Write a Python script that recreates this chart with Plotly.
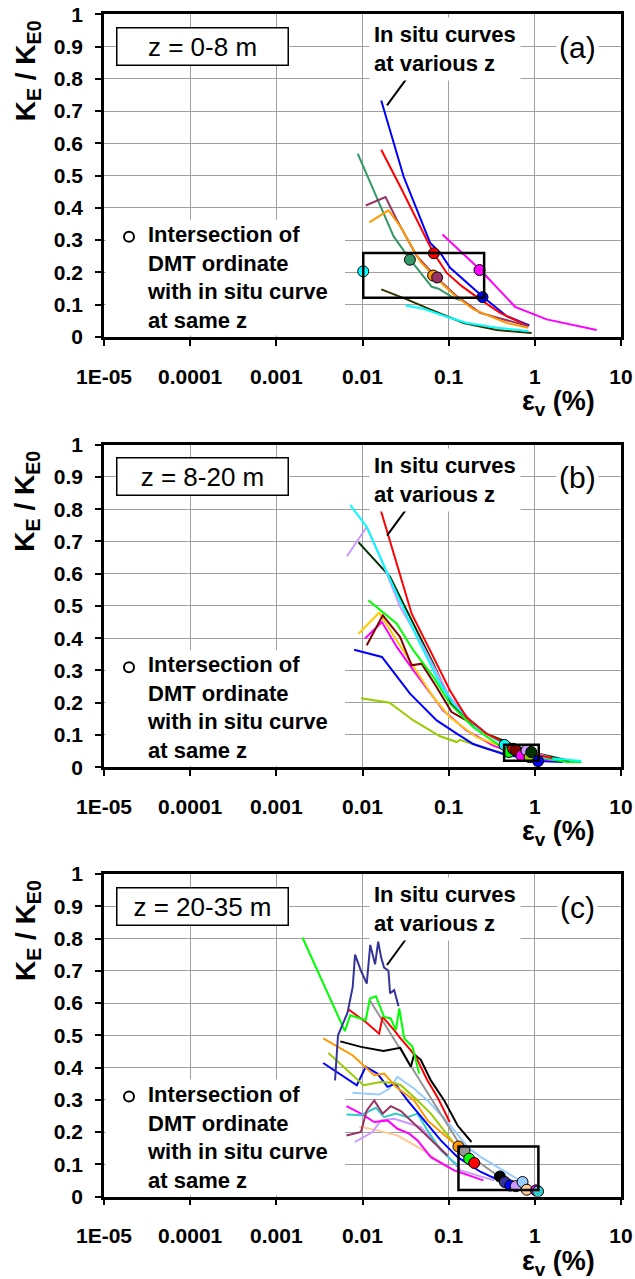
import plotly.graph_objects as go

FONT = "Liberation Sans, Arial, sans-serif"
W, H = 635, 1279

# ---------------- data ----------------
x_tickvals = [1e-5, 1e-4, 1e-3, 1e-2, 1e-1, 1, 10]
x_ticktext = ["1E-05", "0.0001", "0.001", "0.01", "0.1", "1", "10"]
y_tickvals = [0, 0.1, 0.2, 0.3, 0.4, 0.5, 0.6, 0.7, 0.8, 0.9, 1]
y_ticktext = ["0", "0.1", "0.2", "0.3", "0.4", "0.5", "0.6", "0.7", "0.8", "0.9", "1"]

panel_labels = ["(a)", "(b)", "(c)"]
depth_labels = ["z = 0-8 m", "z = 8-20 m", "z = 20-35 m"]

# Panel (a): z = 0-8 m
a_blue_x = [0.0165, 0.030, 0.061, 0.080, 0.104, 0.170, 0.249, 0.472, 0.865]
a_blue_y = [0.733, 0.497, 0.291, 0.260, 0.214, 0.162, 0.124, 0.064, 0.035]
a_red_x = [0.0165, 0.0274, 0.0557, 0.0667, 0.095, 0.142, 0.232, 0.395, 0.843]
a_red_y = [0.580, 0.466, 0.301, 0.260, 0.198, 0.157, 0.116, 0.074, 0.033]
a_sea_x = [0.0088, 0.0229, 0.0357, 0.0637, 0.0762, 0.1138, 0.136]
a_sea_y = [0.568, 0.312, 0.239, 0.155, 0.149, 0.121, 0.114]
a_mauve_x = [0.0109, 0.0185, 0.025, 0.0427, 0.0728, 0.124, 0.232, 0.84]
a_mauve_y = [0.407, 0.433, 0.363, 0.250, 0.183, 0.126, 0.074, 0.033]
a_orange_x = [0.0120, 0.020, 0.0274, 0.0467, 0.0667, 0.114, 0.194, 0.472, 0.84]
a_orange_y = [0.355, 0.392, 0.343, 0.234, 0.190, 0.131, 0.085, 0.043, 0.028]
a_magenta_x = [0.0848, 0.232, 0.590, 1.374, 5.22]
a_magenta_y = [0.317, 0.208, 0.093, 0.054, 0.021]
a_olive_x = [0.0165, 0.0327, 0.061, 0.149, 0.361, 0.92]
a_olive_y = [0.147, 0.116, 0.085, 0.043, 0.021, 0.012]
a_cyan_x = [0.0316, 0.051, 0.095, 0.162, 0.361, 0.843]
a_cyan_y = [0.097, 0.087, 0.062, 0.043, 0.028, 0.018]
a_pts_x = [0.0102, 0.0355, 0.0673, 0.066, 0.0735, 0.228, 0.247]
a_pts_y = [0.203, 0.239, 0.259, 0.190, 0.184, 0.207, 0.123]
a_pts_c = ["#00ffff", "#339966", "#ff0000", "#ff9900", "#993366", "#ff00ff", "#0000ff"]
a_box = [0.0102, 0.258, 0.121, 0.260]

# Panel (b): z = 8-20 m
b_red_x = [0.0163, 0.0372, 0.0664, 0.1035, 0.161, 0.275, 0.43, 0.56, 0.957, 1.6]
b_red_y = [0.797, 0.476, 0.342, 0.238, 0.155, 0.104, 0.078, 0.057, 0.041, 0.028]
b_cyan_x = [0.0072, 0.0112, 0.0229, 0.0426, 0.0794, 0.113, 0.211, 0.445, 1.14, 3.47]
b_cyan_y = [0.813, 0.745, 0.559, 0.404, 0.259, 0.197, 0.124, 0.069, 0.031, 0.019]
b_lav_x = [0.0066, 0.0112, 0.016, 0.0273, 0.0509, 0.1035, 0.211, 0.43, 0.80, 1.5]
b_lav_y = [0.654, 0.745, 0.652, 0.497, 0.373, 0.217, 0.124, 0.072, 0.052, 0.030]
b_dkg_x = [0.0090, 0.0209, 0.0356, 0.0664, 0.108, 0.161, 0.275, 0.91, 2.5]
b_dkg_y = [0.697, 0.590, 0.466, 0.321, 0.197, 0.155, 0.104, 0.047, 0.020]
b_green_x = [0.0117, 0.025, 0.039, 0.0664, 0.1035, 0.193, 0.50, 2.33, 3.47]
b_green_y = [0.518, 0.445, 0.362, 0.280, 0.197, 0.124, 0.047, 0.016, 0.016]
b_gold_x = [0.0090, 0.0156, 0.025, 0.039, 0.0664, 0.1035, 0.211, 0.56, 3.0]
b_gold_y = [0.414, 0.479, 0.393, 0.311, 0.217, 0.155, 0.093, 0.050, 0.016]
b_mag_x = [0.0107, 0.0168, 0.025, 0.039, 0.0867, 0.161, 0.329, 0.70, 1.5]
b_mag_y = [0.399, 0.450, 0.373, 0.300, 0.176, 0.114, 0.067, 0.036, 0.022]
b_dred_x = [0.0112, 0.0172, 0.0273, 0.0372, 0.0486, 0.0726, 0.108, 0.161, 0.275, 0.60, 1.3]
b_dred_y = [0.378, 0.471, 0.404, 0.316, 0.321, 0.248, 0.171, 0.145, 0.104, 0.053, 0.030]
b_blue_x = [0.0080, 0.0168, 0.0356, 0.0726, 0.124, 0.193, 0.43, 1.09, 2.13]
b_blue_y = [0.364, 0.342, 0.228, 0.145, 0.104, 0.072, 0.041, 0.019, 0.016]
b_yg_x = [0.0096, 0.0206, 0.039, 0.0794, 0.124, 0.135, 0.275, 0.56, 0.87, 1.5]
b_yg_y = [0.214, 0.200, 0.145, 0.096, 0.078, 0.085, 0.057, 0.036, 0.031, 0.020]
b_pts_x = [0.445, 0.50, 0.56, 0.60, 0.70, 0.80, 0.87, 0.91, 1.09]
b_pts_y = [0.069, 0.047, 0.057, 0.053, 0.036, 0.052, 0.031, 0.047, 0.019]
b_pts_c = ["#00ffff", "#00ff00", "#ff0000", "#800000", "#ff00ff", "#cc99ff", "#99cc00", "#003300", "#0000ff"]
b_box = [0.44, 1.11, 0.020, 0.070]

# Panel (c): z = 20-35 m
c_navy_x = [0.0048, 0.0052, 0.0067, 0.0077, 0.0082, 0.0096, 0.0112, 0.0123, 0.0140, 0.0152, 0.0165, 0.0178, 0.020, 0.0209, 0.0233, 0.0262]
c_navy_y = [0.36, 0.50, 0.57, 0.65, 0.75, 0.70, 0.66, 0.78, 0.72, 0.79, 0.74, 0.71, 0.70, 0.63, 0.64, 0.59]
c_green_x = [0.00201, 0.00624, 0.0072, 0.0109, 0.0122, 0.0143, 0.0178, 0.0213, 0.0244, 0.0267, 0.0305, 0.038, 0.0455]
c_green_y = [0.803, 0.513, 0.562, 0.547, 0.614, 0.621, 0.557, 0.552, 0.516, 0.583, 0.490, 0.464, 0.381]
c_red_x = [0.00689, 0.0109, 0.0156, 0.0171, 0.0233, 0.0267, 0.0364, 0.0416, 0.0568, 0.0741, 0.103]
c_red_y = [0.580, 0.541, 0.505, 0.557, 0.516, 0.495, 0.453, 0.433, 0.360, 0.308, 0.231]
c_black_x = [0.00551, 0.0096, 0.0175, 0.0274, 0.0364, 0.0398, 0.0475, 0.0621, 0.0887, 0.127, 0.184]
c_black_y = [0.481, 0.464, 0.451, 0.461, 0.402, 0.441, 0.424, 0.360, 0.298, 0.220, 0.169]
c_gray_x = [0.0123, 0.153, 0.37, 0.70]
c_gray_y = [0.606, 0.138, 0.065, 0.035]
c_orange_x = [0.0035, 0.00766, 0.0137, 0.0178, 0.0244, 0.0398, 0.0568, 0.127]
c_orange_y = [0.490, 0.438, 0.376, 0.381, 0.340, 0.298, 0.236, 0.155]
c_yg_x = [0.00403, 0.0103, 0.0163, 0.0233, 0.0279, 0.0435, 0.0621, 0.116]
c_yg_y = [0.445, 0.345, 0.355, 0.352, 0.345, 0.298, 0.257, 0.164]
c_blue_x = [0.0035, 0.0086, 0.0109, 0.0149, 0.0195, 0.0239, 0.0333, 0.052, 0.0811, 0.127, 0.236, 0.52]
c_blue_y = [0.414, 0.345, 0.402, 0.381, 0.340, 0.350, 0.298, 0.236, 0.174, 0.122, 0.076, 0.034]
c_lblue_x = [0.00766, 0.0156, 0.0204, 0.0255, 0.0398, 0.0568, 0.0969, 0.166, 0.236, 0.72]
c_lblue_y = [0.322, 0.316, 0.334, 0.371, 0.334, 0.298, 0.231, 0.153, 0.122, 0.045]
c_mauve_x = [0.00652, 0.0096, 0.0112, 0.0137, 0.0171, 0.0213, 0.0279, 0.0398, 0.0621, 0.0969]
c_mauve_y = [0.189, 0.200, 0.267, 0.298, 0.257, 0.280, 0.265, 0.226, 0.174, 0.127]
c_teal_x = [0.00652, 0.0096, 0.0143, 0.0178, 0.0244, 0.0333, 0.0435, 0.0568, 0.0811, 0.127]
c_teal_y = [0.254, 0.252, 0.275, 0.246, 0.257, 0.246, 0.257, 0.205, 0.143, 0.096]
c_mag_x = [0.00652, 0.0096, 0.0137, 0.0195, 0.0255, 0.0348, 0.0435, 0.0621, 0.116, 0.253]
c_mag_y = [0.280, 0.257, 0.231, 0.236, 0.210, 0.195, 0.174, 0.122, 0.081, 0.050]
c_lav_x = [0.00815, 0.0131, 0.0163, 0.0233, 0.0333, 0.0475, 0.0741, 0.138, 0.337]
c_lav_y = [0.169, 0.200, 0.236, 0.241, 0.228, 0.215, 0.158, 0.081, 0.050]
c_peach_x = [0.00915, 0.0149, 0.0255, 0.0475, 0.0969]
c_peach_y = [0.217, 0.205, 0.189, 0.148, 0.091]
c_pts_x = [0.130, 0.153, 0.173, 0.198, 0.393, 0.449, 0.52, 0.601, 0.72, 0.807, 1.03, 1.09]
c_pts_y = [0.155, 0.141, 0.117, 0.104, 0.062, 0.045, 0.034, 0.032, 0.045, 0.021, 0.019, 0.016]
c_pts_c = ["#ff9900", "#969696", "#00ff00", "#ff0000", "#000000", "#333399", "#0000ff",
           "#cc99ff", "#99ccff", "#ffcc99", "#ff00ff", "#33cccc"]
c_box = [0.13, 1.10, 0.020, 0.155]

panels = [
    dict(curves=[(a_blue_x, a_blue_y, "#0000ff"), (a_red_x, a_red_y, "#ff0000"),
                 (a_sea_x, a_sea_y, "#339966"), (a_mauve_x, a_mauve_y, "#993366"),
                 (a_orange_x, a_orange_y, "#ff9900"), (a_magenta_x, a_magenta_y, "#ff00ff"),
                 (a_olive_x, a_olive_y, "#333300"), (a_cyan_x, a_cyan_y, "#00ffff")],
         pts=(a_pts_x, a_pts_y, a_pts_c), box=a_box),
    dict(curves=[(b_yg_x, b_yg_y, "#99cc00"), (b_blue_x, b_blue_y, "#0000ff"),
                 (b_mag_x, b_mag_y, "#ff00ff"), (b_gold_x, b_gold_y, "#ffcc00"),
                 (b_dred_x, b_dred_y, "#800000"), (b_green_x, b_green_y, "#00ff00"),
                 (b_dkg_x, b_dkg_y, "#003300"), (b_lav_x, b_lav_y, "#cc99ff"),
                 (b_cyan_x, b_cyan_y, "#00ffff"), (b_red_x, b_red_y, "#ff0000")],
         pts=(b_pts_x, b_pts_y, b_pts_c), box=b_box),
    dict(curves=[(c_peach_x, c_peach_y, "#ffcc99"), (c_lav_x, c_lav_y, "#cc99ff"),
                 (c_mag_x, c_mag_y, "#ff00ff"), (c_teal_x, c_teal_y, "#33cccc"),
                 (c_mauve_x, c_mauve_y, "#993366"), (c_lblue_x, c_lblue_y, "#99ccff"),
                 (c_blue_x, c_blue_y, "#0000ff"), (c_yg_x, c_yg_y, "#99cc00"),
                 (c_orange_x, c_orange_y, "#ff9900"), (c_gray_x, c_gray_y, "#969696"),
                 (c_black_x, c_black_y, "#000000"), (c_red_x, c_red_y, "#ff0000"),
                 (c_green_x, c_green_y, "#00ff00"), (c_navy_x, c_navy_y, "#333399")],
         pts=(c_pts_x, c_pts_y, c_pts_c), box=c_box),
]

# ---------------- layout geometry (pixels) ----------------
X0, X1 = 104, 621
TOPS = [14.3, 444.7, 874.0]
PH = 322.5


def px(x):
    return x / W


def py(y):
    return 1 - y / H


def xdata(xp):
    # pixel -> data value on the log axis (for decoration placement)
    return 10 ** (-5 + 6 * (xp - X0) / (X1 - X0))


fig = go.Figure()
shapes, annotations = [], []
layout_axes = {}

for i, p in enumerate(panels):
    n = "" if i == 0 else str(i + 1)
    xa, ya = "x" + n, "y" + n
    t = TOPS[i]
    b = t + PH
    for cx, cy, col in p["curves"]:
        fig.add_trace(go.Scatter(x=cx, y=cy, mode="lines", xaxis=xa, yaxis=ya,
                                 line=dict(color=col, width=2), showlegend=False,
                                 hoverinfo="skip"))
    bx = p["box"]
    shapes.append(dict(type="rect", xref=xa, yref=ya, x0=bx[0], x1=bx[1], y0=bx[2], y1=bx[3],
                       line=dict(color="black", width=2.5), layer="above"))
    px_, py_, pc_ = p["pts"]
    fig.add_trace(go.Scatter(x=px_, y=py_, mode="markers", xaxis=xa, yaxis=ya,
                             marker=dict(color=pc_, size=11, line=dict(color="black", width=1)),
                             showlegend=False, hoverinfo="skip"))

    tfont = dict(family=FONT, size=21, color="black", weight="bold")
    layout_axes["xaxis" + n] = dict(
        type="log", range=[-5, 1], domain=[px(X0), px(X1)], anchor=ya, automargin=False,
        tickvals=x_tickvals, ticktext=x_ticktext, tickfont=tfont,
        showgrid=True, gridcolor="#a0a0a0", gridwidth=1,
        showline=True, linecolor="black", linewidth=2.5, mirror=True,
        ticks="outside", ticklen=6, tickwidth=1.5, tickcolor="black",
        ticklabelstandoff=13, zeroline=False, fixedrange=True)
    layout_axes["yaxis" + n] = dict(
        range=[0, 1], domain=[py(b), py(t)], anchor=xa, automargin=False,
        tickvals=y_tickvals, ticktext=y_ticktext, tickfont=tfont,
        showgrid=True, gridcolor="#a0a0a0", gridwidth=1,
        showline=True, linecolor="black", linewidth=2.5, mirror=True,
        ticks="outside", ticklen=6, tickwidth=1.5, tickcolor="black",
        ticklabelstandoff=8, zeroline=False, fixedrange=True)

    xd, yd = xa + " domain", ya + " domain"

    def dx(xp):
        return (xp - X0) / (X1 - X0)

    def dy(yp, b=b):
        return (b - yp) / PH

    # white area behind the legend note (hides gridlines, stays under traces)
    shapes.append(dict(type="rect", xref=xa, yref=ya, x0=xdata(X0 + 1.5), x1=xdata(345),
                       y0=0.004, y1=117 / PH, fillcolor="white",
                       line=dict(width=0), layer="between"))
    # open circle legend symbol
    shapes.append(dict(type="circle", xref=xd, yref=yd, xsizemode="pixel", ysizemode="pixel",
                       xanchor=dx(129), yanchor=dy(b - 100), x0=-5, x1=5, y0=-5, y1=5,
                       line=dict(color="black", width=2), fillcolor="white", layer="above"))
    annotations.append(dict(xref=xd, yref=yd, x=dx(145), y=dy(b - 59.5), xanchor="left",
                            yanchor="middle", align="left", showarrow=False,
                            text="<b>Intersection of<br>DMT ordinate<br>with in situ curve<br>at same z</b>",
                            font=dict(family=FONT, size=22, color="black")))
    # depth box
    annotations.append(dict(xref=xd, yref=yd, x=dx(202), y=dy(t + 32), xanchor="center",
                            yanchor="middle", showarrow=False, text=depth_labels[i],
                            width=170, height=36, bgcolor="white", bordercolor="black",
                            borderwidth=1.5, borderpad=0,
                            font=dict(family=FONT, size=26, color="black")))
    # panel letter
    annotations.append(dict(xref=xd, yref=yd, x=dx(577), y=dy(t + 33), xanchor="center",
                            yanchor="middle", showarrow=False, text=panel_labels[i],
                            bgcolor="white", borderpad=2,
                            font=dict(family=FONT, size=30, color="black")))
    # in situ curves note
    annotations.append(dict(xref=xd, yref=yd, x=dx(445), y=dy(t + 35), xanchor="center",
                            yanchor="middle", showarrow=False, align="left",
                            text="<b>In situ curves<br>at various z</b>",
                            bgcolor="white", borderpad=4,
                            font=dict(family=FONT, size=22, color="black")))
    shapes.append(dict(type="line", xref=xd, yref=yd, x0=dx(406), y0=dy(t + 65),
                       x1=dx(387), y1=dy(t + 91), line=dict(color="black", width=2),
                       layer="above"))
    # y axis title
    annotations.append(dict(xref="paper", yref="paper", x=px(27), y=py(t + 57),
                            xanchor="center", yanchor="middle", textangle=-90, showarrow=False,
                            text="<b>K<sub>E</sub> / K<sub>E0</sub></b>",
                            font=dict(family=FONT, size=28, color="black")))
    # x axis title
    annotations.append(dict(xref="paper", yref="paper", x=px(558), y=py(b + 66),
                            xanchor="center", yanchor="middle", showarrow=False,
                            text="<b>ε<sub>v</sub> (%)</b>",
                            font=dict(family=FONT, size=27, color="black")))

fig.update_layout(template="none", width=W, height=H, margin=dict(l=0, r=0, t=0, b=0),
                  plot_bgcolor="white", paper_bgcolor="white",
                  shapes=shapes, annotations=annotations, showlegend=False,
                  font=dict(family=FONT), **layout_axes)

fig.write_html("out.html", config={"displayModeBar": False},
               post_script="document.body.style.margin='0';")
